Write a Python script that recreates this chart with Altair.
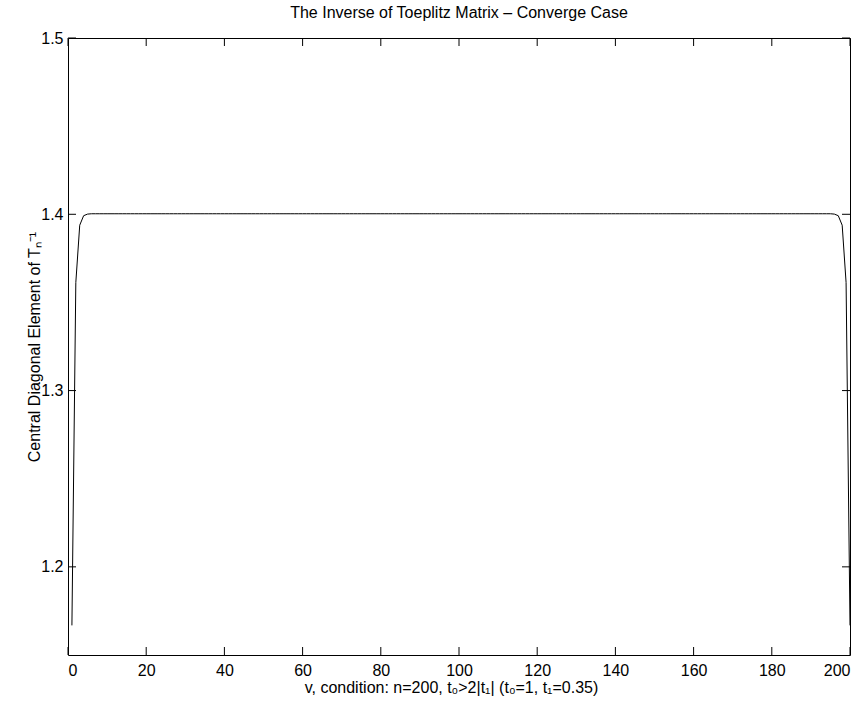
import altair as alt
import pandas as pd

# Central diagonal element of the inverse Toeplitz matrix, v = 1..200
v = list(range(1, 201))
head = [1.1668, 1.3613, 1.3938, 1.3992, 1.4001, 1.4003]
plateau = [1.4003] * 188
tail = head[::-1]
values = head + plateau + tail

x_ticks = [0, 20, 40, 60, 80, 100, 120, 140, 160, 180, 200]
y_ticks = [1.2, 1.3, 1.4, 1.5]

W, H = 782, 617
TICK = 8
FONT = "Liberation Sans"
FS = 16

df = pd.DataFrame({"v": v, "value": values})
xt = pd.DataFrame({"t": x_ticks})
yt = pd.DataFrame({"t": y_ticks})

xscale = alt.Scale(domain=[0, 200], nice=False, zero=False)
yscale = alt.Scale(domain=[1.15, 1.5], nice=False, zero=False)

line = alt.Chart(df).mark_line(color="black", strokeWidth=1, clip=True).encode(
    x=alt.X("v:Q", scale=xscale,
            axis=alt.Axis(values=x_ticks, ticks=False, grid=False, domain=False,
                          labelPadding=7, labelFontSize=FS, labelFont=FONT,
                          labelColor="black", format="d",
                          title="v, condition: n=200, t₀>2|t₁| (t₀=1, t₁=0.35)",
                          titleFont=FONT, titleFontSize=FS, titleFontWeight="normal",
                          titleColor="black", titlePadding=1, titleX=383)),
    y=alt.Y("value:Q", scale=yscale,
            axis=alt.Axis(values=y_ticks, ticks=False, grid=False, domain=False,
                          labelPadding=5, labelFontSize=FS, labelFont=FONT,
                          labelColor="black", format=".1f",
                          title="Central Diagonal Element of Tₙ⁻¹",
                          titleFont=FONT, titleFontSize=FS, titleFontWeight="normal",
                          titleColor="black", titleX=-26)),
)

# inward-pointing ticks on all four sides of the box
x_bottom = alt.Chart(xt).mark_rule(color="black", strokeWidth=1).encode(
    x=alt.X("t:Q", scale=xscale), y=alt.value(H), y2=alt.value(H - TICK))
x_top = alt.Chart(xt).mark_rule(color="black", strokeWidth=1).encode(
    x=alt.X("t:Q", scale=xscale), y=alt.value(0), y2=alt.value(TICK))
y_left = alt.Chart(yt).mark_rule(color="black", strokeWidth=1).encode(
    y=alt.Y("t:Q", scale=yscale), x=alt.value(0), x2=alt.value(TICK))
y_right = alt.Chart(yt).mark_rule(color="black", strokeWidth=1).encode(
    y=alt.Y("t:Q", scale=yscale), x=alt.value(W), x2=alt.value(W - TICK))

chart = alt.layer(line, x_bottom, x_top, y_left, y_right).properties(
    width=W,
    height=H,
    title=alt.TitleParams("The Inverse of Toeplitz Matrix – Converge Case",
                          font=FONT, fontSize=FS, fontWeight="normal",
                          color="black", anchor="middle", offset=9),
    autosize=alt.AutoSizeParams(type="none"),
    padding={"left": 68, "top": 38, "right": 18, "bottom": 55},
    background="white",
).configure_view(stroke="black", strokeWidth=1)

chart.save("out.html", embed_options={"renderer": "svg", "actions": False})
